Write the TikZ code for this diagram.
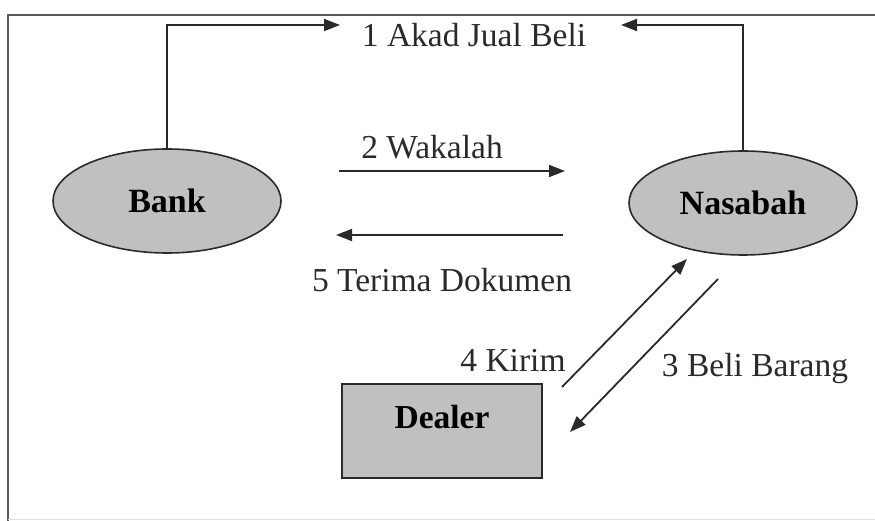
\documentclass[tikz,border=0pt]{standalone}
\usepackage{fontspec}
\setmainfont{Liberation Serif}
\usetikzlibrary{shapes.geometric,arrows.meta}
\definecolor{boxfill}{HTML}{C0C0C0}
\definecolor{ink}{HTML}{2A2A2A}
\begin{document}
\begin{tikzpicture}[x=1pt,y=-1pt,
  lbl/.style={font=\fontsize{33.5}{36}\selectfont, text=ink, inner sep=0pt},
  party/.style={ellipse, draw=ink, line width=1.6pt, fill=boxfill, minimum width=228pt, minimum height=104pt, inner sep=0pt, font=\fontsize{34}{36}\selectfont\bfseries},
  flow/.style={draw=ink, line width=1.8pt, -{Triangle[length=16pt,width=12pt]}},
  frame/.style={draw=gray!70!black, line width=1.8pt}]
\useasboundingbox (0,0) rectangle (875,521);
% frame
\coordinate (f1) at (8,521);
\coordinate (f2) at (8,15);
\coordinate (f3) at (875,15);
\draw[frame] (f1) -- (f2) -- (f3);
\draw[draw=gray!25, line width=1pt] (8,519) -- (875,519);
% parties
\node[party] (bank) at (167,201) {Bank};
\node[party] (nasabah) at (743,203) {Nasabah};
\node[draw=ink, line width=1.6pt, fill=boxfill, minimum width=200pt, minimum height=94pt,
      inner sep=0pt, text height=44pt, text depth=50pt,
      font=\fontsize{33.5}{36}\selectfont\bfseries] (dealer) at (442,431) {Dealer};
% labels
\node[lbl] (akad) at (474,35) {1 Akad Jual Beli};
\node[lbl] (wakalah) at (432,147) {2 Wakalah};
\node[lbl] (terima) at (442,280) {5 Terima Dokumen};
\node[lbl] (kirim) at (513,360) {4 Kirim};
\node[lbl] (beli) at (755,368) {3 Beli Barang};
% connector points
\coordinate (a1) at (340,25);
\coordinate (a2) at (621,25);
\coordinate (w1) at (339,171);
\coordinate (w2) at (565,171);
\coordinate (t1) at (563,235);
\coordinate (t2) at (336,235);
\coordinate (k1) at (562,387);
\coordinate (k2) at (687,259);
\coordinate (b1) at (718,279);
\coordinate (b2) at (570,432);
% connectors
\draw[flow] (bank.north) |- (a1);
\draw[flow] (nasabah.north) |- (a2);
\draw[flow] (w1) -- (w2);
\draw[flow] (t1) -- (t2);
\draw[flow] (k1) -- (k2);
\draw[flow] (b1) -- (b2);
\end{tikzpicture}
\end{document}
